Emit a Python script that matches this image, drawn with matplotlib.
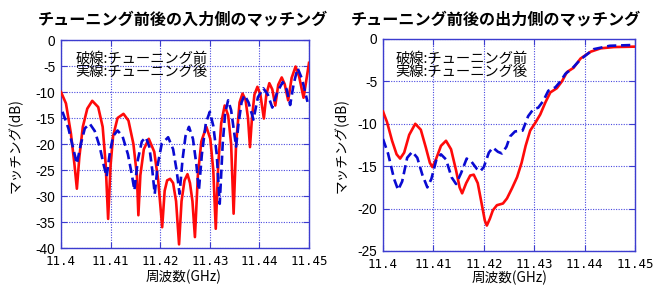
import matplotlib
matplotlib.use("Agg")
import matplotlib.pyplot as plt
from matplotlib.ticker import FixedLocator, FixedFormatter

plt.rcParams['axes.unicode_minus'] = False

# ---------------- data ----------------
x_ticks = [11.40, 11.41, 11.42, 11.43, 11.44, 11.45]
x_tick_labels = ["11.4", "11.41", "11.42", "11.43", "11.44", "11.45"]
left_y_ticks = [0, -5, -10, -15, -20, -25, -30, -35, -40]
right_y_ticks = [0, -5, -10, -15, -20, -25]

left_title = "チューニング前後の入力側のマッチング"
right_title = "チューニング前後の出力側のマッチング"
note_lines = ["破線:チューニング前", "実線:チューニング後"]
ylabel = "マッチング(dB)"
xlabel = "周波数(GHz)"

# Left plot, solid red
in_red_f = [11.4000, 11.4010, 11.4020, 11.4027, 11.4032, 11.4037, 11.4044, 11.4053, 11.4063,
            11.4075, 11.4084, 11.4090, 11.4095, 11.4100, 11.4105, 11.4114, 11.4126, 11.4136,
            11.4146, 11.4153, 11.4156, 11.4160, 11.4167, 11.4177, 11.4188, 11.4196, 11.4204,
            11.4209, 11.4214, 11.4220, 11.4226, 11.4232, 11.4238, 11.4243, 11.4249, 11.4255,
            11.4260, 11.4265, 11.4270, 11.4276, 11.4283, 11.4293, 11.4301, 11.4307, 11.4312,
            11.4317, 11.4323, 11.4330, 11.4337, 11.4343, 11.4348, 11.4353, 11.4360, 11.4366,
            11.4372, 11.4377, 11.4381, 11.4385, 11.4390, 11.4396, 11.4402, 11.4409, 11.4414,
            11.4420, 11.4426, 11.4432, 11.4438, 11.4445, 11.4451, 11.4458, 11.4465, 11.4473,
            11.4480, 11.4489, 11.4495, 11.4500]
in_red_db = [-10.0, -12.2, -18.0, -23.8, -28.6, -22.5, -16.7, -13.2, -11.7,
             -12.9, -16.7, -23.8, -34.4, -24.0, -18.5, -15.0, -14.2, -15.5,
             -20.0, -26.0, -33.7, -26.0, -21.0, -19.0, -21.5, -27.0, -36.0,
             -29.0, -27.0, -26.7, -27.5, -31.0, -39.3, -31.0, -27.0, -25.8,
             -27.5, -31.0, -37.9, -26.0, -19.5, -16.7, -19.0, -25.0, -36.3,
             -24.0, -16.0, -12.6, -14.5, -20.0, -33.4, -20.0, -12.0, -10.3,
             -11.5, -15.0, -20.6, -15.0, -10.5, -9.0, -10.5, -15.1, -10.5,
             -8.3, -9.5, -12.6, -8.6, -7.2, -8.5, -11.6, -7.3, -5.1,
             -7.0, -11.1, -7.5, -4.4]

# Left plot, dashed blue
in_blue_f = [11.4003, 11.4015, 11.4025, 11.4032, 11.4040, 11.4048, 11.4058, 11.4068, 11.4078,
             11.4086, 11.4092, 11.4098, 11.4105, 11.4114, 11.4124, 11.4135, 11.4143, 11.4148,
             11.4155, 11.4163, 11.4171, 11.4178, 11.4184, 11.4189, 11.4195, 11.4203, 11.4216,
             11.4226, 11.4233, 11.4239, 11.4245, 11.4251, 11.4258, 11.4266, 11.4273, 11.4278,
             11.4284, 11.4292, 11.4300, 11.4307, 11.4314, 11.4320, 11.4326, 11.4331, 11.4337,
             11.4343, 11.4348, 11.4353, 11.4358, 11.4364, 11.4370, 11.4378, 11.4388, 11.4397,
             11.4408, 11.4417, 11.4426, 11.4436, 11.4447, 11.4455, 11.4462, 11.4469, 11.4477,
             11.4486, 11.4497]
in_blue_db = [-13.8, -17.0, -21.0, -23.8, -20.0, -17.0, -16.1, -17.5, -20.5,
              -24.0, -26.3, -22.0, -18.5, -17.4, -18.5, -22.0, -26.0, -28.9,
              -23.0, -19.5, -18.7, -20.5, -25.0, -29.6, -24.0, -20.0, -18.7,
              -21.0, -25.0, -29.6, -23.0, -18.5, -16.7, -19.0, -24.0, -28.9,
              -22.0, -16.0, -13.8, -16.5, -22.0, -31.5, -20.0, -14.0, -11.6,
              -13.5, -17.0, -20.5, -16.0, -12.0, -10.6, -12.0, -15.3, -11.0,
              -9.3, -10.5, -13.0, -10.0, -8.1, -9.5, -12.5, -8.5, -5.4,
              -7.5, -11.9]

# Right plot, solid red
out_red_f = [11.4000, 11.4008, 11.4018, 11.4027, 11.4034, 11.4042, 11.4052, 11.4064, 11.4075,
             11.4085, 11.4093, 11.4098, 11.4105, 11.4115, 11.4125, 11.4135, 11.4145, 11.4152,
             11.4157, 11.4165, 11.4173, 11.4180, 11.4188, 11.4196, 11.4202, 11.4206, 11.4212,
             11.4218, 11.4226, 11.4238, 11.4246, 11.4256, 11.4266, 11.4275, 11.4283, 11.4292,
             11.4302, 11.4312, 11.4322, 11.4332, 11.4345, 11.4355, 11.4365, 11.4378, 11.4392,
             11.4412, 11.4432, 11.4458, 11.4500]
out_red_db = [-8.55, -9.8, -12.0, -13.6, -14.1, -13.4, -11.3, -10.0, -10.7,
              -12.8, -14.6, -15.1, -14.2, -12.6, -12.0, -13.0, -15.5, -17.5,
              -18.2, -17.0, -16.1, -16.0, -17.0, -19.5, -21.4, -22.0, -21.2,
              -20.2, -19.6, -19.4, -18.8, -17.6, -16.3, -14.6, -12.6, -10.8,
              -9.9, -8.9, -7.5, -6.3, -5.8, -5.0, -3.9, -3.4, -2.3,
              -1.5, -1.1, -0.95, -0.9]

# Right plot, dashed blue
out_blue_f = [11.4000, 11.4010, 11.4022, 11.4030, 11.4038, 11.4048, 11.4058, 11.4068, 11.4078,
              11.4088, 11.4096, 11.4106, 11.4115, 11.4125, 11.4136, 11.4145, 11.4155, 11.4166,
              11.4176, 11.4186, 11.4193, 11.4200, 11.4210, 11.4218, 11.4228, 11.4236, 11.4245,
              11.4252, 11.4262, 11.4277, 11.4288, 11.4298, 11.4308, 11.4318, 11.4328, 11.4342,
              11.4352, 11.4362, 11.4375, 11.4392, 11.4418, 11.4450, 11.4500]
out_blue_db = [-11.8, -13.5, -16.5, -17.8, -16.8, -14.0, -13.3, -14.0, -16.0,
               -17.5, -16.5, -14.2, -13.6, -14.2, -16.3, -17.1, -15.8, -14.1,
               -14.5, -15.3, -15.6, -15.1, -13.4, -12.8, -13.3, -13.5, -12.7,
               -11.5, -10.9, -10.8, -9.1, -8.3, -8.1, -7.3, -6.1, -5.7,
               -5.0, -4.1, -3.5, -2.4, -1.2, -0.8, -0.7]

# ---------------- styles ----------------
W, H = 663, 289
frame_col = '#3c3ccf'
grid_col = '#4a4ae0'
red = '#ff0a0a'
blue = '#0a0ad2'
cjk = ['Noto Sans CJK JP', 'DejaVu Sans']

fig = plt.figure(figsize=(W / 100, H / 100), dpi=100)


def px_axes(x0, y0, x1, y1):
    return fig.add_axes([x0 / W, 1 - y1 / H, (x1 - x0) / W, (y1 - y0) / H])


def style(ax, yticks, ylim):
    ax.set_xlim(11.40, 11.45)
    ax.set_ylim(*ylim)
    ax.xaxis.set_major_locator(FixedLocator(x_ticks))
    ax.xaxis.set_major_formatter(FixedFormatter(x_tick_labels))
    ax.set_yticks(yticks)
    ax.set_yticklabels([str(v) for v in yticks])
    for s in ax.spines.values():
        s.set_color(frame_col)
        s.set_linewidth(1.0)
    ax.tick_params(direction='in', length=4, width=0.8, color=frame_col,
                   top=True, right=True)
    ax.tick_params(axis='x', pad=5)
    ax.tick_params(axis='y', pad=4)
    for lab in ax.get_xticklabels():
        lab.set_family('DejaVu Sans Mono')
        lab.set_fontsize(9)
    for lab in ax.get_yticklabels():
        lab.set_family('Liberation Sans')
        lab.set_fontsize(9.8)
    ax.grid(True, color=grid_col, linestyle=(0, (1, 1.3)), linewidth=0.8)
    ax.set_axisbelow(True)


axL = px_axes(61, 40, 309, 248)
axR = px_axes(383, 39, 635, 251)

axL.plot(in_red_f, in_red_db, color=red, lw=1.9, solid_joinstyle='round', zorder=3)
axL.plot(in_blue_f, in_blue_db, color=blue, lw=1.9, dashes=(3.5, 1.8), zorder=4)
style(axL, left_y_ticks, (-40, 0))

axR.plot(out_red_f, out_red_db, color=red, lw=1.9, solid_joinstyle='round', zorder=3)
axR.plot(out_blue_f, out_blue_db, color=blue, lw=1.9, dashes=(3.5, 1.8), zorder=4)
style(axR, right_y_ticks, (-25, 0))

# notes
for ax, x0, y1, y2 in [(axL, 0.058, 0.909, 0.846), (axR, 0.048, 0.906, 0.845)]:
    ax.text(x0, y1, note_lines[0], transform=ax.transAxes, family=cjk, fontsize=10.3,
            ha='left', va='center', zorder=5)
    ax.text(x0, y2, note_lines[1], transform=ax.transAxes, family=cjk, fontsize=10.3,
            ha='left', va='center', zorder=5)

# titles and labels
fig.text(182.5 / W, 1 - 20 / H, left_title, family=cjk, fontsize=11.6, fontweight='bold',
         ha='center', va='center')
fig.text(495.5 / W, 1 - 20 / H, right_title, family=cjk, fontsize=11.6, fontweight='bold',
         ha='center', va='center')
fig.text(184 / W, 1 - 277 / H, xlabel, family=cjk, fontsize=9.8, ha='center', va='center')
fig.text(510 / W, 1 - 278 / H, xlabel, family=cjk, fontsize=9.8, ha='center', va='center')
fig.text(15 / W, 1 - 146 / H, ylabel, family=cjk, fontsize=9.8, ha='center', va='center',
         rotation=90)
fig.text(341 / W, 1 - 146 / H, ylabel, family=cjk, fontsize=9.8, ha='center', va='center',
         rotation=90)

fig.savefig('out.png', dpi=100)
